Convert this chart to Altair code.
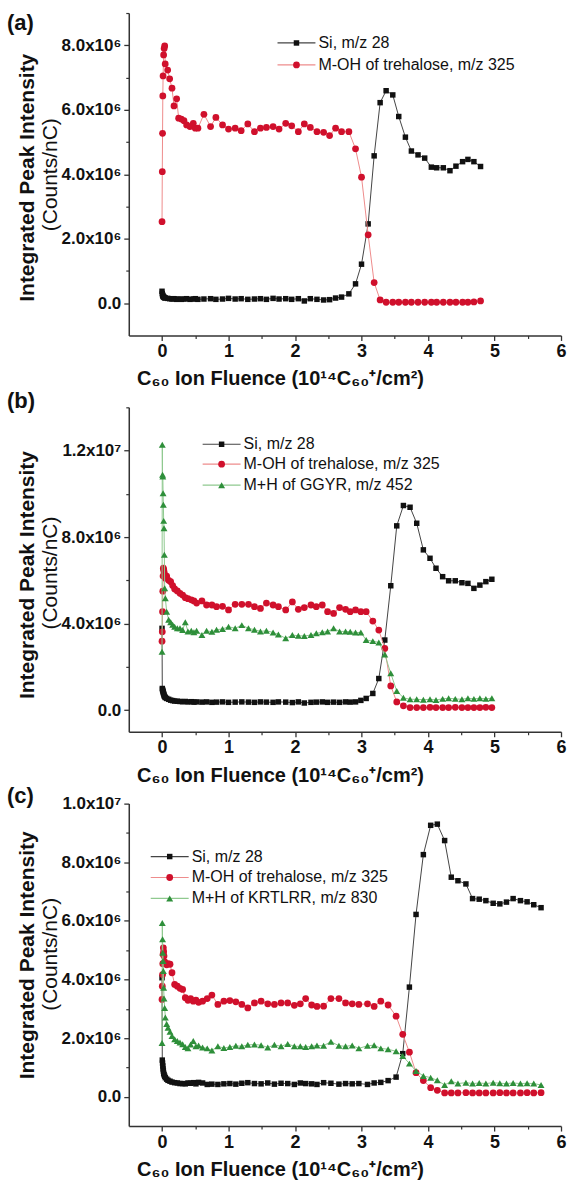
import altair as alt
import pandas as pd

FONT = "Liberation Sans"

# ---------------- Panel (a) ----------------
x_a = [0.000, 0.004, 0.008, 0.012, 0.016, 0.024, 0.032, 0.040, 0.048, 0.085,
       0.115, 0.150, 0.180, 0.220, 0.250, 0.290, 0.330, 0.370, 0.420, 0.470,
       0.500, 0.540, 0.630, 0.730, 0.810, 0.910, 1.000, 1.100, 1.190, 1.290,
       1.390, 1.480, 1.570, 1.670, 1.760, 1.860, 1.950, 2.050, 2.140, 2.230,
       2.330, 2.430, 2.520, 2.610, 2.700, 2.810, 2.910, 3.000, 3.100, 3.190,
       3.280, 3.370, 3.470, 3.560, 3.660, 3.750, 3.850, 3.950, 4.050, 4.130,
       4.230, 4.330, 4.420, 4.520, 4.600, 4.690, 4.790]
si_a = [0.37, 0.30, 0.26, 0.23, 0.21, 0.19, 0.18, 0.17, 0.16, 0.15,
        0.14, 0.13, 0.14, 0.12, 0.13, 0.12, 0.13, 0.14, 0.12, 0.13,
        0.14, 0.12, 0.13, 0.14, 0.12, 0.13, 0.15, 0.13, 0.14, 0.12,
        0.13, 0.14, 0.12, 0.15, 0.13, 0.14, 0.12, 0.14, 0.07, 0.14,
        0.12, 0.10, 0.11, 0.16, 0.19, 0.29, 0.60, 1.21, 2.46, 4.57,
        6.22, 6.59, 6.46, 5.79, 5.15, 4.72, 4.60, 4.50, 4.22, 4.20,
        4.20, 4.11, 4.25, 4.39, 4.46, 4.39, 4.24]
moh_a = [2.53, 4.08, 5.27, 6.43, 7.05, 7.70, 7.90, 7.98, 7.42, 7.23,
         6.96, 6.67, 6.12, 6.34, 5.74, 5.71, 5.66, 5.53, 5.48, 5.58,
         5.43, 5.43, 5.86, 5.48, 5.76, 5.53, 5.40, 5.43, 5.35, 5.56,
         5.32, 5.43, 5.45, 5.48, 5.40, 5.58, 5.50, 5.32, 5.56, 5.45,
         5.32, 5.30, 5.20, 5.43, 5.32, 5.32, 4.79, 3.91, 2.12, 0.64,
         0.10, 0.03, 0.03, 0.03, 0.03, 0.03, 0.03, 0.03, 0.03, 0.03,
         0.03, 0.03, 0.03, 0.03, 0.03, 0.04, 0.07]

# ---------------- Panel (b) ----------------
x_b = [0.0, 0.004, 0.008, 0.012, 0.016, 0.02, 0.025, 0.03, 0.035, 0.04,
       0.05, 0.07, 0.10, 0.13, 0.16, 0.19, 0.23, 0.27, 0.31, 0.35,
       0.39, 0.44, 0.48, 0.52,
       0.60, 0.67, 0.75, 0.82, 0.91, 1.00, 1.10, 1.20, 1.30, 1.39,
       1.48, 1.57, 1.67, 1.75, 1.86, 1.96, 2.05, 2.14, 2.24, 2.32,
       2.41, 2.49, 2.58, 2.67, 2.76, 2.83, 2.91, 2.99,
       3.07, 3.17, 3.26, 3.35, 3.44, 3.53, 3.63, 3.73, 3.83, 3.93,
       4.03, 4.12, 4.22, 4.31, 4.41, 4.51, 4.60, 4.69, 4.78, 4.87,
       4.96]
si_b = [3.78, 1.00, 0.95, 0.90, 0.85, 0.80, 0.75, 0.70, 0.65, 0.62,
        0.58, 0.54, 0.50, 0.46, 0.44, 0.42, 0.41, 0.40, 0.39, 0.40,
        0.38, 0.39, 0.37, 0.38,
        0.37, 0.38, 0.36, 0.37, 0.38, 0.36, 0.37, 0.38, 0.37, 0.36,
        0.38, 0.37, 0.36, 0.38, 0.37, 0.35, 0.38, 0.33, 0.36, 0.37,
        0.38, 0.36, 0.37, 0.36, 0.38, 0.37, 0.38, 0.45,
        0.54, 0.77, 1.46, 3.24, 5.75, 8.52, 9.46, 9.38, 8.64, 7.41,
        7.02, 6.56, 6.17, 5.98, 5.98, 5.89, 5.86, 5.63, 5.78, 5.94,
        6.05]
moh_b = [3.19, 3.62, 4.55, 5.50, 6.20, 6.56, 6.50, 6.40, 6.30, 6.20,
         6.10, 6.20, 6.00, 5.94, 5.76, 5.60, 5.51, 5.40, 5.32, 5.20,
         5.15, 5.10, 5.05, 4.95,
         5.05, 4.86, 4.86, 4.78, 4.80, 4.63, 4.89, 4.89, 4.89, 4.78,
         4.70, 4.95, 4.86, 4.78, 4.63, 5.00, 4.66, 4.74, 4.86, 4.78,
         4.86, 4.55, 4.47, 4.74, 4.66, 4.55, 4.63, 4.55,
         4.55, 4.12, 3.70, 2.85, 1.12, 0.38, 0.20, 0.12, 0.12, 0.12,
         0.13, 0.12, 0.12, 0.12, 0.13, 0.12, 0.12, 0.12, 0.12, 0.13,
         0.12]
ggyr_b = [2.70, 12.27, 10.88, 10.80, 10.03, 9.49, 8.75, 8.41, 7.18, 5.63,
          5.17, 4.55, 4.18, 4.06, 3.95, 3.86, 3.78, 3.78, 3.70, 4.06,
          3.64, 3.67, 3.60, 3.67,
          3.47, 3.67, 3.62, 3.72, 3.75, 3.86, 3.78, 3.93, 3.78, 3.72,
          3.64, 3.67, 3.59, 3.50, 3.32, 3.47, 3.44, 3.43, 3.47, 3.55,
          3.60, 3.64, 3.78, 3.64, 3.64, 3.62, 3.59, 3.59,
          3.24, 3.19, 3.13, 2.57, 1.70, 0.88, 0.57, 0.50, 0.50, 0.48,
          0.50, 0.47, 0.52, 0.55, 0.52, 0.50, 0.55, 0.52, 0.55, 0.52,
          0.55]

# ---------------- Panel (c) ----------------
x_c = [0.0, 0.004, 0.008, 0.012, 0.016, 0.02, 0.025, 0.03, 0.04, 0.05,
       0.07, 0.09, 0.12, 0.15, 0.19, 0.23, 0.27, 0.31, 0.35, 0.39,
       0.43, 0.47, 0.51, 0.55, 0.61,
       0.68, 0.75, 0.84, 0.93, 1.02, 1.11, 1.20, 1.29, 1.39, 1.49,
       1.59, 1.69, 1.79, 1.89, 1.99, 2.08, 2.16, 2.25, 2.33, 2.43,
       2.54, 2.66, 2.76, 2.86, 2.96, 3.09, 3.19, 3.29, 3.40,
       3.52, 3.62, 3.72, 3.82, 3.93, 4.04, 4.14, 4.25, 4.35, 4.45,
       4.57, 4.67, 4.77, 4.87, 4.98, 5.08, 5.18, 5.28, 5.39, 5.49,
       5.59, 5.70]
si_c = [4.06, 1.25, 1.15, 1.05, 0.95, 0.88, 0.80, 0.75, 0.70, 0.65,
        0.60, 0.56, 0.53, 0.50, 0.48, 0.47, 0.45, 0.45, 0.44, 0.47,
        0.46, 0.48, 0.44, 0.49, 0.47,
        0.42, 0.43, 0.42, 0.44, 0.45, 0.43, 0.46, 0.48, 0.45, 0.44,
        0.47, 0.43, 0.46, 0.45, 0.42, 0.47, 0.45, 0.44, 0.42, 0.48,
        0.46, 0.43, 0.45, 0.44, 0.45, 0.42, 0.47, 0.49, 0.55,
        0.67, 1.47, 3.74, 6.22, 8.26, 9.26, 9.30, 8.74, 7.49, 7.37,
        7.26, 6.76, 6.74, 6.69, 6.60, 6.58, 6.64, 6.76, 6.69, 6.65,
        6.55, 6.45]
moh_c = [3.32, 3.77, 4.17, 4.54, 4.86, 5.08, 4.95, 4.80, 4.60, 4.54,
         4.50, 4.54, 4.52, 4.23, 3.83, 3.77, 3.70, 3.66, 3.38, 3.29,
         3.35, 3.26, 3.30, 3.22, 3.26,
         3.35, 3.47, 3.15, 3.26, 3.28, 3.24, 3.15, 3.03, 3.20, 3.26,
         3.17, 3.15, 3.20, 3.20, 3.12, 3.17, 3.35, 3.13, 3.08, 3.09,
         3.35, 3.35, 3.20, 3.17, 3.15, 3.17, 3.08, 3.26, 3.13,
         2.75, 2.13, 1.52, 0.82, 0.55, 0.31, 0.22, 0.13, 0.13, 0.13,
         0.14, 0.13, 0.13, 0.13, 0.13, 0.14, 0.13, 0.13, 0.13, 0.14,
         0.13, 0.14]
krtlrr_c = [1.83, 5.93, 5.37, 4.91, 4.63, 4.29, 3.72, 3.35, 3.03, 2.70,
            2.48, 2.35, 2.22, 2.07, 1.96, 1.90, 1.85, 1.79, 1.70, 1.65,
            1.78, 1.90, 1.72, 1.75, 1.68,
            1.65, 1.58, 1.72, 1.66, 1.70, 1.74, 1.72, 1.77, 1.78, 1.76,
            1.68, 1.77, 1.72, 1.80, 1.72, 1.72, 1.70, 1.72, 1.75, 1.74,
            1.88, 1.74, 1.72, 1.75, 1.65, 1.74, 1.76, 1.65, 1.62,
            1.55, 1.39, 1.13, 0.88, 0.71, 0.65, 0.56, 0.40, 0.53, 0.45,
            0.48, 0.45, 0.47, 0.45, 0.48, 0.46, 0.45, 0.47, 0.45, 0.46,
            0.45, 0.40]

legend_a = ["Si, m/z 28", "M-OH of trehalose, m/z 325"]
legend_b = ["Si, m/z 28", "M-OH of trehalose, m/z 325", "M+H of GGYR, m/z 452"]
legend_c = ["Si, m/z 28", "M-OH of trehalose, m/z 325", "M+H of KRTLRR, m/z 830"]

x_major = [0, 1, 2, 3, 4, 5, 6]
x_minor = [0.5, 1.5, 2.5, 3.5, 4.5, 5.5]

Y_TITLE = "Integrated Peak Intensity"
Y_UNIT = "(Counts/nC)"
X_TITLE = "C₆₀ Ion Fluence (10¹⁴C₆₀⁺/cm²)"

STYLE = {
    "si": dict(shape="square", size=30, color="#111111", line="#444444"),
    "moh": dict(shape="circle", size=46, color="#d0102c", line="#ee8c8c"),
    "pep": dict(shape="triangle-up", size=48, color="#2e8f3a", line="#8fc98f"),
}

W = 433
LABEL_EXPR = ("datum.value == 0 ? '0.0' : (datum.value >= 10 ? "
              "format(datum.value / 10, '.1f') + 'x10⁷' : "
              "format(datum.value, '.1f') + 'x10⁶')")


def one_row():
    return pd.DataFrame({"k": [0]})


def text_layer(txt, x, y, size, weight="normal", angle=0, align="left"):
    return alt.Chart(one_row()).mark_text(
        text=txt, font=FONT, fontSize=size, fontWeight=weight, angle=angle,
        align=align, baseline="middle", color="#111111"
    ).encode(x=alt.value(x), y=alt.value(y))


def panel(xs, series, labels, ydom, ymajor, yminor, height, letter, letter_y,
          ytitle_y, unit_y, leg_x, leg_rows):
    xsc = alt.Scale(domain=[-0.5, 6], nice=False, zero=False)
    ysc = alt.Scale(domain=ydom, nice=False, zero=False)
    ax_x = alt.Axis(values=x_major, format="d", title=None, orient="bottom",
                    grid=False, labelFont=FONT, labelFontSize=18,
                    labelFontWeight="bold", labelColor="#111111",
                    labelPadding=2, labelFlush=False, labelOverlap=False,
                    tickSize=5, tickWidth=1.3, tickColor="#333333",
                    domainColor="#333333", domainWidth=1.5)
    ax_y = alt.Axis(values=ymajor, labelExpr=LABEL_EXPR, title=None,
                    orient="left", grid=False, labelFont=FONT,
                    labelFontSize=17, labelFontWeight="bold",
                    labelColor="#111111", labelPadding=3, labelFlush=False,
                    labelOverlap=False, tickSize=5, tickWidth=1.3,
                    tickColor="#333333", domainColor="#333333",
                    domainWidth=1.5)
    ax_xm = alt.Axis(values=x_minor, labels=False, domain=False, title=None,
                     orient="bottom", grid=False, tickSize=3, tickWidth=1.2,
                     tickColor="#333333")
    ax_ym = alt.Axis(values=yminor, labels=False, domain=False, title=None,
                     orient="left", grid=False, tickSize=3, tickWidth=1.2,
                     tickColor="#333333")

    layers = []
    for i, (key, vals) in enumerate(series):
        st = STYLE[key]
        df = pd.DataFrame({"x": xs, "v": vals})
        line = alt.Chart(df).mark_line(color=st["line"], strokeWidth=1).encode(
            x=alt.X("x:Q", scale=xsc, axis=ax_x if i == 0 else None),
            y=alt.Y("v:Q", scale=ysc, axis=ax_y if i == 0 else None),
        )
        pts = alt.Chart(df).mark_point(
            filled=True, shape=st["shape"], size=st["size"], color=st["color"],
            opacity=1
        ).encode(
            x=alt.X("x:Q", scale=xsc, axis=ax_xm if i == 0 else None),
            y=alt.Y("v:Q", scale=ysc, axis=ax_ym if i == 0 else None),
        )
        layers += [line, pts]

    # legend
    for (key, _), lab, ry in zip(series, labels, leg_rows):
        st = STYLE[key]
        layers.append(alt.Chart(one_row()).mark_rule(color=st["line"], strokeWidth=1.2).encode(
            x=alt.value(leg_x), x2=alt.value(leg_x + 38), y=alt.value(ry)))
        layers.append(alt.Chart(one_row()).mark_point(
            filled=True, shape=st["shape"], size=st["size"], color=st["color"], opacity=1
        ).encode(x=alt.value(leg_x + 19), y=alt.value(ry)))
        layers.append(text_layer(lab, leg_x + 41, ry, 16))

    layers.append(text_layer(letter, -122, letter_y, 22, "bold"))
    layers.append(text_layer(Y_TITLE, -101, ytitle_y, 21, "bold", angle=270, align="center"))
    layers.append(text_layer(Y_UNIT, -78, unit_y, 21, "normal", angle=270, align="center"))
    layers.append(text_layer(X_TITLE, 152, height + 44, 20, "bold", align="center"))

    return alt.layer(*layers).resolve_axis(x="independent", y="independent").properties(
        width=W, height=height)


pa = panel(x_a, [("si", si_a), ("moh", moh_a)], legend_a, [-1, 9],
           [0, 2, 4, 6, 8], [1, 3, 5, 7, 9], 323, "(a)", 10, 165, 162,
           149, [30, 52])
pb = panel(x_b, [("si", si_b), ("moh", moh_b), ("pep", ggyr_b)], legend_b,
           [-1, 14], [0, 4, 8, 12], [2, 6, 10, 14], 325, "(b)", -6, 168, 166,
           74, [37, 57, 78])
pc = panel(x_c, [("si", si_c), ("moh", moh_c), ("pep", krtlrr_c)], legend_c,
           [-1, 10], [0, 2, 4, 6, 8, 10], [1, 3, 5, 7, 9], 323, "(c)", -8, 152,
           151, 22, [53, 74, 95])

chart = alt.vconcat(pa, pb, pc, spacing=72, bounds="flush").properties(
    padding={"left": 6, "top": 10, "right": 0, "bottom": 0},
    background="white",
).configure_view(stroke="transparent")

chart.save("out.html", embed_options={"renderer": "svg", "actions": False})
